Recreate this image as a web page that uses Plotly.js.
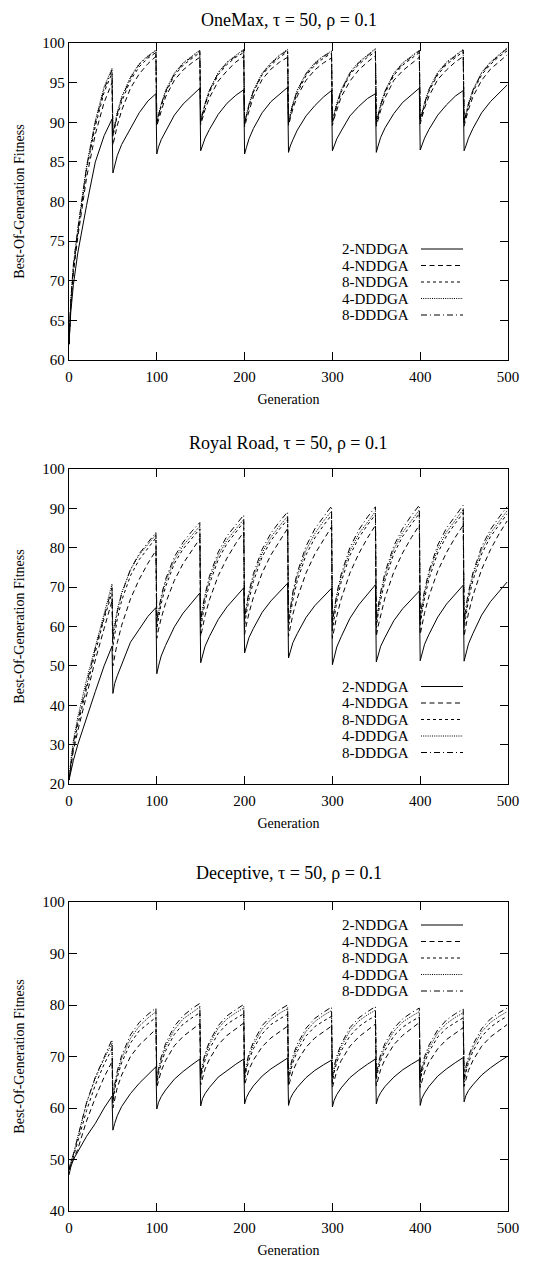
<!DOCTYPE html>
<html>
<head>
<meta charset="utf-8">
<script src="https://cdn.plot.ly/plotly-3.0.1.min.js"></script>
<style>html,body{margin:0;padding:0;background:#fff;}#chart{width:557px;height:1262px;}</style>
</head>
<body>
<div id="chart"></div>
<script>
// ---------- DATA ----------
const seriesNames = ["2-NDDGA", "4-NDDGA", "8-NDDGA", "4-DDDGA", "8-DDDGA"];
const panelTitles = ["OneMax, \u03c4 = 50, \u03c1 = 0.1", "Royal Road, \u03c4 = 50, \u03c1 = 0.1", "Deceptive, \u03c4 = 50, \u03c1 = 0.1"];
const xTitle = "Generation";
const yTitle = "Best-Of-Generation Fitness";
const cycleStarts = [0, 50, 100, 150, 200, 250, 300, 350, 400, 450];
const sampleOffsets = [0, 2, 5, 10, 20, 30, 40, 49];

// OneMax
const om2N = [62,66,69.5,73.5,79.5,85,88.3,90.4, 83.6,84.6,85.8,87.2,89.3,91.2,92.7,93.6, 86.0,86.9,87.8,88.9,90.9,92.3,93.4,94.3, 86.4,87.1,88.0,89.1,91.0,92.4,93.4,94.1, 86.0,86.8,87.9,89.2,91.2,92.6,93.6,94.4, 86.2,87.0,87.8,89.0,90.8,92.1,93.2,94.0, 86.4,87.1,87.9,88.9,90.8,92.0,93.0,93.6, 86.2,87.0,88.1,89.3,91.1,92.5,93.5,94.3, 86.5,87.2,88.0,89.1,90.9,92.2,93.3,94.0, 86.4,87.0,88.0,89.2,91.2,92.6,93.7,94.7];
const om4N = [62,67,71,75.5,83,88.5,92.5,95.0, 87.1,88.2,89.6,91.5,94.3,96.1,97.4,98.3, 89.5,90.3,91.5,93.2,95.3,96.6,97.5,98.2, 89.7,90.5,91.6,93.1,95.2,96.5,97.6,98.3, 89.4,90.3,91.4,93.2,95.4,96.7,97.6,98.2, 89.6,90.4,91.7,93.3,95.3,96.6,97.5,98.1, 89.6,90.5,91.6,93.2,95.2,96.6,97.6,98.4, 89.5,90.3,91.5,93.1,95.3,96.5,97.4,98.2, 89.8,90.6,91.8,93.3,95.4,96.6,97.6,98.3, 89.5,90.4,91.6,93.2,95.3,96.7,97.7,98.5];
const om8N = [62,67,71.5,76,84,89.5,93.8,96.2, 88.2,89.3,90.8,92.6,95.3,97.0,98.1,98.8, 89.8,90.7,92.0,93.7,95.9,97.2,98.1,98.8, 90.0,90.9,92.2,93.8,96.0,97.3,98.2,98.8, 89.8,90.8,92.0,93.8,96.0,97.2,98.2,98.9, 89.9,90.8,92.1,93.7,95.9,97.2,98.1,98.7, 89.9,90.9,92.1,93.8,96.0,97.3,98.2,98.9, 89.8,90.7,92.0,93.7,95.9,97.2,98.1,98.8, 90.1,91.0,92.2,93.9,96.0,97.3,98.2,98.9, 89.9,90.8,92.1,93.8,96.0,97.3,98.3,99.0];
const om4D = [62,67.5,72,76.5,84.5,90.2,94.5,96.8, 88.6,89.8,91.3,93.2,95.7,97.4,98.4,99.1, 90.0,91.0,92.3,94.0,96.2,97.5,98.4,99.1, 90.2,91.1,92.4,94.1,96.3,97.6,98.5,99.2, 90.0,91.0,92.3,94.0,96.2,97.5,98.5,99.2, 90.1,91.1,92.4,94.1,96.2,97.5,98.4,99.0, 90.1,91.1,92.4,94.1,96.3,97.6,98.5,99.3, 90.0,91.0,92.3,94.0,96.2,97.5,98.4,99.1, 90.3,91.2,92.5,94.2,96.3,97.6,98.5,99.2, 90.1,91.1,92.4,94.1,96.3,97.6,98.6,99.4];
const om8D = [62,67.5,72,76.5,84.3,90,94.2,96.6, 88.4,89.6,91.1,93.0,95.6,97.3,98.3,99.0, 89.9,90.9,92.2,93.9,96.1,97.4,98.3,99.0, 90.1,91.0,92.3,94.0,96.2,97.5,98.4,99.1, 89.9,90.9,92.2,93.9,96.1,97.4,98.4,99.1, 90.0,91.0,92.3,94.0,96.1,97.4,98.3,98.9, 90.0,91.0,92.3,94.0,96.2,97.5,98.4,99.2, 89.9,90.9,92.2,93.9,96.1,97.4,98.3,99.0, 90.2,91.1,92.4,94.1,96.2,97.5,98.4,99.1, 90.0,91.0,92.3,94.0,96.2,97.5,98.5,99.3];

// Royal Road
const rr2N = [21,23,26,30,37,43.5,50,55, 43,45.5,47.5,50.5,56,59.3,62.6,64.8, 48,50,52.5,55.2,59.9,63.4,66,68.5, 50.8,52.7,55,57.5,61.8,65,67.5,69.8, 53.3,55,57.2,59.5,63.6,66.5,69,71, 52,53.8,55.9,58.2,62.3,65.3,67.6,69.7, 50.3,52.3,54.8,57.4,62.1,65.5,68.2,70.6, 51,52.8,55,57.3,61.5,64.5,66.8,69, 51.3,53.2,55.5,58,62.4,65.7,68.2,70.5, 51.2,53.2,55.6,58.2,62.9,66.3,68.9,71.3];
const rr4N = [21,24,28.5,33.5,42.5,51.5,59.5,66.5, 50,52.6,55.9,60.3,67,72,76.1,79.3, 57,59.3,62.1,65.9,71.7,76,79.5,82.3, 57.5,59.9,62.8,66.8,72.9,77.4,81.1,84, 58,60.4,63.4,67.4,73.6,78.2,81.9,84.9, 57.5,60,63.1,67.2,73.6,78.4,82.2,85.3, 57,59.6,62.7,67,73.6,78.5,82.5,85.7, 57.5,60,63.1,67.4,73.9,78.7,82.6,85.7, 58,60.5,63.5,67.7,74.1,78.8,82.7,85.7, 57.5,60.1,63.4,67.8,74.5,79.5,83.6,86.8];
const rr8N = [21,25,29.5,35,44.5,53.5,62,68.5, 55,58.3,61.9,66.6,72.9,77,80,82.5, 59.5,62.5,65.8,70.1,76,79.7,82.5,84.8, 59.5,62.7,66.3,70.8,77,81.1,84.1,86.5, 60,63.3,66.8,71.4,77.7,81.8,84.8,87.2, 59.5,63,66.7,71.6,78.2,82.5,85.7,88.3, 59,62.5,66.4,71.3,78.1,82.5,85.8,88.4, 59.5,63,66.8,71.8,78.5,82.9,86.1,88.7, 60,63.5,67.2,72.1,78.7,83,86.2,88.8, 59.5,63,66.8,71.7,78.4,82.8,86,88.6];
const rr4D = [21,26,31,37,46.5,55,63.5,70.8, 58,61,64.3,68.6,74.4,78.2,81,83.3, 61,63.9,67.1,71.3,76.9,80.6,83.3,85.5, 61,64.1,67.6,72,78,82,84.8,87.2, 61.5,64.7,68.1,72.6,78.7,82.7,85.6,88, 61,64.4,68.1,72.9,79.4,83.6,86.8,89.3, 60.5,64,67.7,72.6,79.2,83.5,86.6,89.2, 61,64.4,68.2,73,79.6,83.9,87,89.6, 61.5,64.9,68.6,73.4,79.8,84,87.1,89.7, 61,64.4,68.1,73,79.5,83.7,86.8,89.4];
const rr8D = [21,25.5,30.5,36,45.5,54.5,62.5,69.8, 57,60.2,63.7,68.3,74.5,78.5,81.5,83.9, 61.5,64.5,67.7,72,77.7,81.4,84.2,86.4, 61.5,64.7,68.2,72.8,78.9,83,85.9,88.3, 62,65.3,68.8,73.4,79.6,83.7,86.7,89.1, 61.5,65,68.8,73.7,80.4,84.8,88,90.6, 61,64.5,68.4,73.3,80.1,84.5,87.8,90.4, 61.5,65,68.8,73.8,80.5,84.9,88.2,90.8, 62,65.5,69.2,74.1,80.7,85,88.2,90.8, 61.5,65,68.7,73.6,80.3,84.6,87.8,90.4];

// Deceptive
const dc2N = [47,48.5,50,51.5,54.5,57,60,62.3, 55.7,57,58.5,60.3,62.8,64.8,66.5,68, 59.8,61.1,62.2,63.5,65.6,67.1,68.4,69.5, 60.4,61.8,62.8,64,66,67.3,68.5,69.5, 60.8,62,63,64.3,66.2,67.6,68.7,69.7, 60.5,61.8,62.8,64,65.9,67.3,68.4,69.3, 60.2,61.5,62.6,63.9,65.9,67.3,68.5,69.5, 60.8,62,63,64.2,66,67.4,68.5,69.4, 60.5,61.9,62.9,64.2,66.2,67.6,68.8,69.8, 61.2,62.4,63.4,64.5,66.4,67.8,69,70];
const dc4N = [48,48.8,49.8,52,57.5,62,66,69, 60,61.8,64,66.4,70,72.2,73.9,75.3, 64,65.5,67.2,69.2,72.1,73.9,75.3,76.4, 64.5,65.9,67.6,69.5,72.3,74.1,75.4,76.5, 64.5,65.9,67.5,69.3,71.9,73.6,74.9,75.9, 64.2,65.6,67.2,69.1,71.8,73.6,74.9,75.9, 64,65.5,67.2,69.2,72,73.8,75.2,76.3, 64.3,65.8,67.5,69.5,72.3,74.1,75.5,76.6, 64,65.4,67,68.9,71.5,73.3,74.6,75.6, 64.2,65.6,67.3,69.2,72,73.8,75.1,76.2];
const dc8N = [48,49,50.5,53.5,59.5,64.5,68.5,71.5, 61,63.5,66,68.8,72.6,75,76.4,77.6, 64.5,66.6,68.7,71.1,74.3,76.3,77.5,78.5, 65.5,67.4,69.3,71.5,74.5,76.3,77.4,78.3, 65.5,67.4,69.3,71.5,74.4,76.2,77.3,78.2, 65,66.9,68.8,71,74,75.8,76.9,77.8, 65,66.9,68.9,71.1,74,75.8,77,77.9, 65.5,67.3,69.2,71.2,74,75.7,76.8,77.7, 65,66.9,68.8,70.9,73.8,75.5,76.6,77.5, 65,66.9,68.8,71,73.9,75.7,76.9,77.8];
const dc4D = [48,49.5,51,54.5,61,65.8,69.6,72.6, 61.5,64.1,66.7,69.6,73.5,75.9,77.5,78.7, 65,67.2,69.4,71.9,75.2,77.3,78.6,79.6, 66,68,70.1,72.4,75.5,77.3,78.5,79.4, 66,68,70,72.3,75.3,77.2,78.4,79.3, 65.5,67.5,69.5,71.8,74.9,76.8,78,78.9, 65.5,67.5,69.6,71.9,75,76.9,78.1,79, 66,67.9,69.8,72,74.9,76.7,77.8,78.7, 65.5,67.5,69.4,71.6,74.6,76.4,77.6,78.5, 65.5,67.5,69.5,71.7,74.8,76.6,77.8,78.7];
const dc8D = [48,49.5,51,54.5,61,66,70,73.3, 62,64.6,67.2,70.2,74.2,76.6,78.2,79.4, 65.5,67.7,69.9,72.5,75.9,77.9,79.3,80.3, 66.5,68.5,70.6,72.9,76,77.9,79.1,80.1, 66.5,68.5,70.6,72.8,76,77.8,79.1,80, 66,68,70.1,72.4,75.5,77.4,78.6,79.6, 66,68.1,70.1,72.4,75.6,77.5,78.7,79.7, 66.5,68.4,70.4,72.6,75.5,77.3,78.5,79.4, 66,68,70,72.2,75.2,77.1,78.3,79.2, 66,68,70,72.3,75.4,77.3,78.5,79.4];

const yRanges = [[60, 100], [20, 100], [40, 100]];
const yDticks = [5, 10, 10];
const xTickVals = [0, 100, 200, 300, 400, 500];

// ---------- BUILD ----------
const generations = [];
cycleStarts.forEach(c => sampleOffsets.forEach(o => generations.push(c + o)));

const panels = [
  [om2N, om4N, om8N, om4D, om8D],
  [rr2N, rr4N, rr8N, rr4D, rr8D],
  [dc2N, dc4N, dc8N, dc4D, dc8D]
];
const dashes = ["solid", "5px,3.5px", "3px,3px", "1px,1.2px", "6px,3px,1px,3px"];

const W = 557, H = 1262;
const M = {l: 69, r: 49, t: 43, b: 51};
const plotW = W - M.l - M.r, plotH = H - M.t - M.b;
const px2paper = px => (px - M.l) / plotW;
const py2paper = py => (H - M.b - py) / plotH;

const panelPx = [[43, 360], [469, 784], [902, 1211]];
const titlePy = [20, 443, 873];
const legendTopPy = [249, 686.5, 925];
const legendStep = 16.5;

const FONT = "Liberation Serif, Times New Roman, serif";
const traces = [];
const layout = {
  width: W, height: H,
  margin: M,
  paper_bgcolor: "#fff", plot_bgcolor: "#fff",
  showlegend: false,
  font: {family: FONT, size: 15, color: "#000"},
  annotations: [], shapes: []
};

panels.forEach((series, p) => {
  const sfx = p === 0 ? "" : String(p + 1);
  series.forEach((vals, s) => {
    traces.push({
      type: "scatter", mode: "lines",
      x: generations, y: vals,
      xaxis: "x" + sfx, yaxis: "y" + sfx,
      name: seriesNames[s],
      line: {color: "#000", width: 1, dash: dashes[s]},
      hoverinfo: "skip"
    });
  });
  const dom = [py2paper(panelPx[p][1]), py2paper(panelPx[p][0])];
  layout["xaxis" + sfx] = {
    anchor: "y" + sfx, domain: [0, 1], range: [0, 500],
    tickvals: xTickVals, ticks: "inside", ticklen: 8, tickwidth: 1, tickcolor: "#000",
    ticklabelstandoff: 3,
    showline: true, linecolor: "#000", linewidth: 1.2, mirror: "ticks",
    showgrid: false, zeroline: false,
    tickfont: {family: FONT, size: 15, color: "#000"},
    title: {text: xTitle, font: {family: FONT, size: 14, color: "#000"}, standoff: 10}
  };
  layout["yaxis" + sfx] = {
    anchor: "x" + sfx, domain: dom, range: yRanges[p], dtick: yDticks[p],
    ticks: "inside", ticklen: 8, tickwidth: 1, tickcolor: "#000",
    showline: true, linecolor: "#000", linewidth: 1.2, mirror: "ticks",
    showgrid: false, zeroline: false,
    tickfont: {family: FONT, size: 15, color: "#000"},
    title: {text: yTitle, font: {family: FONT, size: 14, color: "#000"}, standoff: 14}
  };
  layout.annotations.push({
    text: panelTitles[p], xref: "paper", yref: "paper",
    x: 0.5, y: py2paper(titlePy[p]), xanchor: "center", yanchor: "middle",
    showarrow: false, font: {family: FONT, size: 18, color: "#000"}
  });
  seriesNames.forEach((nm, s) => {
    const py = legendTopPy[p] + s * legendStep;
    layout.annotations.push({
      text: nm, xref: "paper", yref: "paper",
      x: px2paper(411), y: py2paper(py), xanchor: "right", yanchor: "middle",
      showarrow: false, font: {family: FONT, size: 15, color: "#000"}
    });
    layout.shapes.push({
      type: "line", xref: "paper", yref: "paper",
      x0: px2paper(421), x1: px2paper(463), y0: py2paper(py), y1: py2paper(py),
      line: {color: "#000", width: 1, dash: dashes[s]}
    });
  });
});

Plotly.newPlot("chart", traces, layout, {staticPlot: true, displayModeBar: false});
</script>
</body>
</html>
